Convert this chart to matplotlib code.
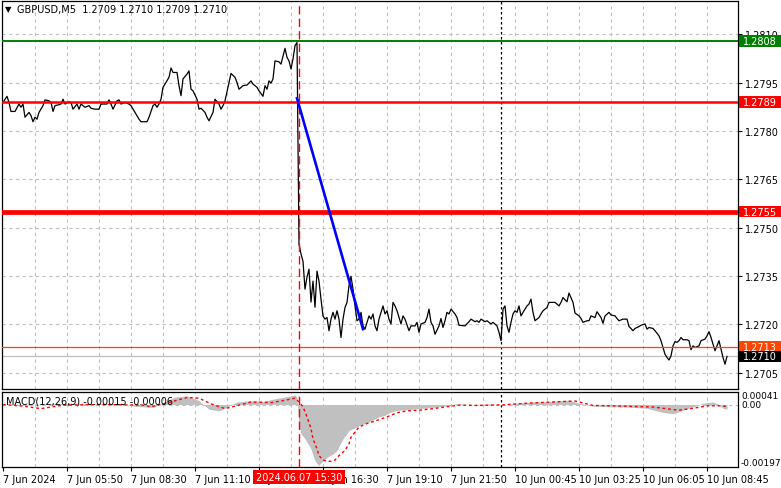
import matplotlib
matplotlib.use('Agg')
import matplotlib.pyplot as plt
import matplotlib.transforms as mtransforms
from matplotlib.patches import Rectangle

W, H = 781, 489

symbol_title = "GBPUSD,M5  1.2709 1.2710 1.2709 1.2710"
macd_title = "MACD(12,26,9) -0.00015 -0.00006"

# M5 close prices, bar index from 7 Jun 03:10
bars_a = [0, 2, 3, 4, 6, 8, 9, 10, 11, 13, 14, 15, 16, 17, 18, 20, 21, 23, 24, 25,
          26, 28, 29, 30, 31, 33, 34, 35, 37, 38, 39, 41, 43, 44, 46, 48, 49, 52, 53, 54,
          55, 57, 58, 59, 61, 63, 64, 66, 68, 69, 72, 73]
close_a = [1.27889, 1.27908, 1.27889, 1.27861, 1.27861, 1.27884, 1.27874, 1.27884, 1.27843, 1.27858,
           1.27848, 1.27829, 1.27843, 1.27837, 1.27858, 1.27879, 1.27897, 1.27894, 1.27889, 1.27861,
           1.27879, 1.27882, 1.27884, 1.27899, 1.27884, 1.27891, 1.27889, 1.27868, 1.27884, 1.27868,
           1.27884, 1.27874, 1.27879, 1.27871, 1.27868, 1.27868, 1.27884, 1.27884, 1.27897, 1.27884,
           1.27868, 1.27894, 1.27897, 1.27884, 1.27889, 1.27884, 1.27879, 1.27858, 1.27837, 1.27829,
           1.27829, 1.27843]

bars_b = [75, 76, 77, 78, 79, 80, 81, 83, 84, 85, 87, 88, 89, 90, 92, 93, 94, 95, 97, 98,
          99, 101, 102, 103, 105, 106, 108, 109, 110, 111, 113, 114, 116, 117, 118, 120, 122, 124, 125, 127,
          128, 130, 131, 132, 133, 134, 135, 136, 138, 139, 141, 142, 143, 144, 145, 146, 147]
close_b = [1.27879, 1.27884, 1.27874, 1.27884, 1.27899, 1.27936, 1.27946, 1.27967, 1.27996, 1.27982,
           1.27982, 1.27941, 1.27910, 1.27962, 1.27977, 1.27987, 1.27930, 1.27925, 1.27899, 1.27868,
           1.27871, 1.27858, 1.27843, 1.27832, 1.27858, 1.27899, 1.27884, 1.27868, 1.27879, 1.27894,
           1.27951, 1.27979, 1.27967, 1.27951, 1.27930, 1.27941, 1.27943, 1.27956, 1.27946, 1.27936,
           1.27925, 1.27908, 1.27941, 1.27930, 1.27956, 1.27949, 1.27962, 1.28018, 1.28015, 1.28008,
           1.28057, 1.28029, 1.28018, 1.27993, 1.28024, 1.28065, 1.28075]

bars_c = [148, 149, 150, 151, 152, 153, 154, 155, 156, 157, 158, 159, 160, 161, 162, 163, 164, 165, 166, 167,
          168, 169, 170, 171, 172, 173, 174, 175, 176, 177, 178, 179, 180, 181, 182, 183, 184, 185, 186, 187,
          188, 189, 190, 191, 192, 193, 194, 195, 196, 197, 199, 200, 201, 203, 204, 206, 207, 208, 209]
close_c = [1.27449, 1.27418, 1.27396, 1.27309, 1.27347, 1.27371, 1.27269, 1.27334, 1.27253, 1.27365,
           1.27334, 1.27278, 1.27226, 1.27216, 1.27221, 1.27180, 1.27216, 1.27237, 1.27216, 1.27242,
           1.27216, 1.27159, 1.27216, 1.27252, 1.27268, 1.27320, 1.27349, 1.27309, 1.27257, 1.27211,
           1.27216, 1.27237, 1.27195, 1.27185, 1.27206, 1.27226, 1.27216, 1.27232, 1.27195, 1.27180,
           1.27216, 1.27237, 1.27257, 1.27232, 1.27242, 1.27216, 1.27201, 1.27268, 1.27257, 1.27242,
           1.27201, 1.27226, 1.27216, 1.27180, 1.27195, 1.27195, 1.27206, 1.27175, 1.27201]

bars_d = [211, 212, 213, 214, 215, 216, 218, 219, 220, 221, 222, 223, 224, 226, 227, 228, 231, 233, 234, 236,
          237, 238, 239, 241, 242, 244, 245, 247, 248, 249, 250, 251, 252, 253, 254, 255, 256, 257, 258, 259,
          260, 262, 263, 264, 265, 266, 268, 269, 270, 272, 273, 276, 278, 279, 280, 281, 282, 283]
close_d = [1.27206, 1.27221, 1.27247, 1.27206, 1.27195, 1.27169, 1.27195, 1.27218, 1.27190, 1.27211,
           1.27237, 1.27232, 1.27247, 1.27232, 1.27221, 1.27197, 1.27195, 1.27208, 1.27216, 1.27208,
           1.27211, 1.27206, 1.27216, 1.27208, 1.27211, 1.27201, 1.27206, 1.27195, 1.27175, 1.27149,
           1.27247, 1.27257, 1.27195, 1.27175, 1.27206, 1.27232, 1.27242, 1.27237, 1.27257, 1.27226,
           1.27237, 1.27257, 1.27263, 1.27278, 1.27237, 1.27211, 1.27221, 1.27232, 1.27242, 1.27252,
           1.27268, 1.27268, 1.27257, 1.27268, 1.27283, 1.27276, 1.27270, 1.27297]

bars_e = [285, 286, 288, 289, 290, 292, 293, 294, 296, 297, 299, 300, 301, 303, 304, 306, 307, 308, 310, 312,
          313, 314, 315, 316, 318, 319, 321, 322, 323, 325, 326, 328, 329, 330, 331, 332, 333, 334, 335, 336,
          337, 338, 339, 340, 342, 343, 344, 345, 346, 348, 349, 351, 352, 353, 354, 355, 356, 357, 358, 359,
          360, 361, 362]
close_e = [1.27268, 1.27235, 1.27226, 1.27218, 1.27206, 1.27211, 1.27211, 1.27226, 1.27221, 1.27239,
           1.27221, 1.27203, 1.27226, 1.27237, 1.27229, 1.27226, 1.27218, 1.27211, 1.27216, 1.27216,
           1.27193, 1.27187, 1.27180, 1.27187, 1.27193, 1.27197, 1.27201, 1.27185, 1.27190, 1.27187,
           1.27180, 1.27164, 1.27149, 1.27128, 1.27107, 1.27097, 1.27089, 1.27102, 1.27133, 1.27146,
           1.27144, 1.27149, 1.27159, 1.27152, 1.27152, 1.27149, 1.27121, 1.27133, 1.27128, 1.27133,
           1.27149, 1.27154, 1.27164, 1.27177, 1.27159, 1.27138, 1.27118, 1.27133, 1.27149, 1.27123,
           1.27097, 1.27076, 1.27100]

trend_bars = [147, 180]
trend_prices = [1.27902, 1.27185]

levels = [1.2808, 1.2789, 1.2755, 1.2713]
level_colors = ['#008000', '#ff0000', '#ff0000', '#ff4500']
level_widths = [1.4, 1.8, 3.4, 0.9]
bid_price = 1.2710

price_ticks = [1.2705, 1.2720, 1.2735, 1.2750, 1.2765, 1.2780, 1.2795, 1.2810]
time_ticks = [0, 32, 64, 96, 128, 160, 192, 224, 256, 288, 320, 352]
time_labels = ['7 Jun 2024', '7 Jun 05:50', '7 Jun 08:30', '7 Jun 11:10', '7 Jun 13:50', '7 Jun 16:30',
               '7 Jun 19:10', '7 Jun 21:50', '10 Jun 00:45', '10 Jun 03:25', '10 Jun 06:05', '10 Jun 08:45']
event_bar = 148
event_label = '2024.06.07 15:30'
day_sep_bar = 249

# MACD histogram (main line) and signal
macd_bars = [0, 10, 20, 35, 50, 60, 66, 75, 80, 86, 92, 98, 103, 108, 112, 117, 124, 130, 136, 142,
             146, 147, 148, 149, 151, 152, 153, 154, 155, 156, 157, 158, 159, 161, 163, 165, 167, 168, 170, 172,
             173, 175, 177, 178, 181, 183, 186, 188, 191, 193, 196, 198, 203, 208, 213, 218, 223, 226, 235, 245,
             250, 256, 265, 275, 283, 288, 295, 305, 315, 322, 330, 335, 340, 345, 350, 355, 358, 360, 362]
macd_vals = [0.0, -0.00003, 0.00002, 0.00004, 0.00003, 0.00001, -0.00006, -0.00009, 0.00005, 0.00024,
             0.00027, 0.00012, -0.00015, -0.00020, -0.00008, 0.00008, 0.00012, 0.00010, 0.00018, 0.00025,
             0.00030, 0.00022, -0.00066, -0.00092, -0.00108, -0.00119, -0.00129, -0.00140, -0.00161, -0.00177,
             -0.00186, -0.00192, -0.00184, -0.00172, -0.00163, -0.00156, -0.00145, -0.00132, -0.00108, -0.00092,
             -0.00082, -0.00076, -0.00071, -0.00066, -0.00060, -0.00055, -0.00045, -0.00039, -0.00034, -0.00026,
             -0.00020, -0.00018, -0.00016, -0.00013, -0.00010, -0.00007, -0.00003, 0.00002, 0.0, 0.00002,
             -0.00002, 0.00004, 0.00008, 0.00010, 0.00014, 0.00004, -0.00005, -0.00007, -0.00009, -0.00012,
             -0.00025, -0.00029, -0.00018, -0.00008, 0.00004, 0.00008, 0.0, -0.00012, -0.00015]
sig_bars = [0, 10, 19, 30, 50, 70, 74, 84, 92, 98, 104, 111, 118, 124, 134, 140, 146, 148, 150, 152,
            154, 155, 157, 158, 160, 162, 164, 166, 168, 171, 173, 174, 176, 178, 182, 187, 192, 197, 202, 208,
            215, 222, 228, 238, 250, 262, 275, 286, 295, 310, 325, 338, 345, 352, 358, 362]
sig_vals = [0.0, -0.00005, -0.00013, -0.00002, 0.0, -0.00002, -0.00007, 0.00008, 0.00022, 0.00020,
            0.00002, -0.00013, -0.00002, 0.00008, 0.00006, 0.00012, 0.00020, 0.00008, -0.00007, -0.00039,
            -0.00076, -0.00108, -0.00140, -0.00161, -0.00175, -0.00179, -0.00179, -0.00175, -0.00161, -0.00145,
            -0.00124, -0.00103, -0.00087, -0.00071, -0.00060, -0.00050, -0.00039, -0.00026, -0.00020, -0.00018,
            -0.00013, -0.00007, -0.00002, -0.00003, -0.00001, 0.00004, 0.00008, 0.00011, -0.00003, -0.00005,
            -0.00008, -0.00018, -0.00012, -0.00004, -0.00004, -0.00006]
macd_ticks = [0.00041, 0.0, -0.00197]

bars = bars_a + bars_b + bars_c + bars_d + bars_e
close = close_a + close_b + close_c + close_d + close_e

FS = 7
GRID = '#c0c0c0'

fig = plt.figure(figsize=(W / 100, H / 100), dpi=100)
fig.patch.set_facecolor('white')

ax = fig.add_axes([2 / W, 1 - 390 / H, 736 / W, 388 / H])
ax2 = fig.add_axes([2 / W, 1 - 468 / H, 736 / W, 75.5 / H])

for a in (ax, ax2):
    a.set_xlim(-0.5, 367.5)
    for s in a.spines.values():
        s.set_color('black')
        s.set_linewidth(0.9)
    for b in range(16, 368, 16):
        a.axvline(b, color=GRID, ls=(0, (3, 3)), lw=0.8, zorder=0)
    a.axvline(event_bar, color='red', ls=(0, (6, 3)), lw=1.0, zorder=4)
    a.axvline(day_sep_bar, color='black', ls=(0, (2, 2)), lw=0.9, zorder=1)

# ---- price panel
ax.set_ylim(1.26999, 1.28204)
for p in price_ticks:
    ax.axhline(p, color=GRID, ls=(0, (3, 3)), lw=0.8, zorder=0)
ax.yaxis.tick_right()
ax.set_yticks(price_ticks)
ax.set_yticklabels([f'{p:.4f}' for p in price_ticks])
ax.tick_params(axis='y', length=3, width=0.8, pad=2, labelsize=FS)
ax.set_xticks([])

ax.plot(bars, close, color='black', lw=0.9, zorder=2)
ax.axhline(bid_price, color='#c0c0c0', lw=0.9, zorder=1)
for lvl, c, lw in zip(levels, level_colors, level_widths):
    ax.axhline(lvl, color=c, lw=lw, zorder=3)
ax.plot(trend_bars, trend_prices, color='#0000ff', lw=1.9, zorder=5)

trans = mtransforms.blended_transform_factory(ax.transAxes, ax.transData)
box_h = 11.5 / 388 * (1.28204 - 1.26999)
for lvl, c in zip(levels + [bid_price], level_colors + ['black']):
    ax.add_patch(Rectangle((737 / 736, lvl - box_h / 2), 44 / 736, box_h, transform=trans,
                           facecolor=c, edgecolor='none', clip_on=False, zorder=6))
    ax.text(741 / 736, lvl, f'{lvl:.4f}', transform=trans, color='white', fontsize=FS,
            ha='left', va='center', clip_on=False, zorder=7)

fig.text(5 / W, 1 - 10 / H, '\u25bc', fontsize=6, va='center', ha='left')
fig.text(17 / W, 1 - 10 / H, symbol_title, fontsize=FS, va='center', ha='left')

# ---- MACD panel
ax2.set_ylim(-0.00197, 0.00041)
ax2.axhline(0, color=GRID, ls=(0, (3, 3)), lw=0.8, zorder=0)
ax2.fill_between(macd_bars, macd_vals, 0, color='#c0c0c0', lw=0, zorder=1)
ax2.plot(sig_bars, sig_vals, color='red', ls=(0, (2, 2)), lw=1.0, zorder=3)
ax2.text(4 / 736, 0.88, macd_title, transform=ax2.transAxes, fontsize=FS, va='center', ha='left')

ax2.set_yticks([])
trans2 = mtransforms.blended_transform_factory(ax2.transAxes, ax2.transData)
for v, va in zip(macd_ticks, ['top', 'center', 'bottom']):
    lbl = f'{v:.5f}' if v != 0 else '0.00'
    ax2.text(739 / 736, v, lbl, transform=trans2, fontsize=6.5, ha='left', va=va, clip_on=False)

ax2.set_xticks(time_ticks)
ax2.set_xticklabels(time_labels, ha='left')
ax2.tick_params(axis='x', length=3, width=0.8, pad=2, labelsize=FS)

trans3 = mtransforms.blended_transform_factory(ax2.transData, fig.transFigure)
ax2.text(event_bar, 1 - 478 / H, event_label, transform=trans3, color='white', fontsize=FS,
         ha='center', va='center', clip_on=False, zorder=10,
         bbox=dict(facecolor='red', edgecolor='none', boxstyle='square,pad=0.25'))

fig.savefig('out.png', dpi=100, facecolor='white')
